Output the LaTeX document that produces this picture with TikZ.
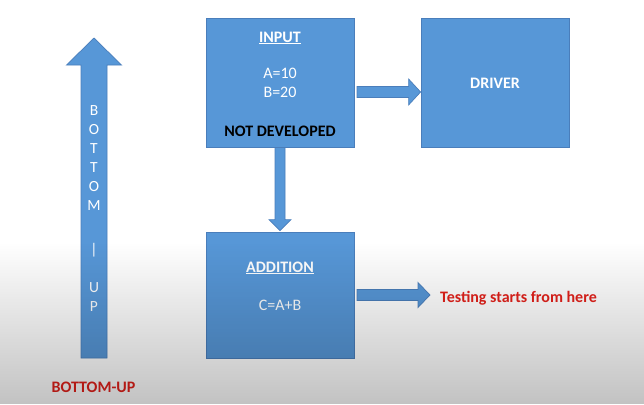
\documentclass[tikz,border=0pt]{standalone}
\usepackage{fontspec}
\setmainfont{Carlito}
\usetikzlibrary{calc,fadings}

\definecolor{boxblue}{HTML}{5797D7}
\definecolor{boxedge}{HTML}{4A7EBB}
\definecolor{alertred}{HTML}{E3211B}

\tikzfading[name=lowershade, top color=transparent!100, bottom color=transparent!0]

\tikzset{
  block/.style={draw=boxedge, fill=boxblue, line width=0.8pt, inner sep=0pt},
  blockarrow/.style={draw=boxedge, fill=boxblue, line width=0.7pt, line join=miter},
  boxtext/.style={text=white, font=\fontsize{16}{19}\selectfont, anchor=base, inner sep=0pt},
  boxtitle/.style={boxtext, font=\fontsize{16}{19}\selectfont\bfseries},
  spine/.style={text=white, font=\fontsize{15.5}{18}\selectfont, inner sep=0pt},
  redlabel/.style={text=alertred, font=\fontsize{16}{19}\selectfont\bfseries, anchor=base, inner sep=0pt},
}

% block arrow from tail #1 to tip #2: shaft half width #3, head half width #4, head length #5
\newcommand\blockarrow[5]{%
  \coordinate (ba-h) at ($(#2)!#5!(#1)$);
  \draw[blockarrow] ($(#1)!#3!90:(#2)$) -- ($(ba-h)!#3!90:(#2)$) -- ($(ba-h)!#4!90:(#2)$)
    -- (#2) -- ($(ba-h)!#4!-90:(#2)$) -- ($(ba-h)!#3!-90:(#2)$) -- ($(#1)!#3!-90:(#2)$) -- cycle;}

\begin{document}
\begin{tikzpicture}[x=1pt,y=-1pt]
  \useasboundingbox (0,0) rectangle (644,404);
  \fill[white] (0,0) rectangle (644,404);

  % boxes
  \node[block, minimum width=148pt, minimum height=129pt] (input) at (280,82.5) {};
  \node[block, minimum width=148pt, minimum height=129pt] (driver) at (495,82.5) {};
  \node[block, minimum width=148pt, minimum height=126pt] (addition) at (280,295) {};

  % box texts
  \node[boxtitle] (input-title) at (280,42) {\underline{INPUT}};
  \node[boxtext] (input-a) at (280,78) {A=10};
  \node[boxtext] (input-b) at (280,97) {B=20};
  \node[boxtitle, text=black] (input-note) at (280,136) {NOT DEVELOPED};
  \node[boxtitle] (driver-title) at (495,88) {DRIVER};
  \node[boxtitle] (addition-title) at (280,272) {\underline{ADDITION}};
  \node[boxtext] (addition-sum) at (280,310) {C=A+B};

  % connectors
  \coordinate (a1s) at (357,92);
  \coordinate (a1e) at (driver.west |- a1s);
  \blockarrow{a1s}{a1e}{5.5pt}{13pt}{12pt}
  \coordinate (a2s) at (input.south);
  \coordinate (a2e) at ($(addition.north)+(0,-1)$);
  \blockarrow{a2s}{a2e}{5pt}{11pt}{11pt}
  \coordinate (a3s) at (357,295);
  \coordinate (a3e) at (430,295);
  \blockarrow{a3s}{a3e}{5.5pt}{12.5pt}{12pt}
  \node[redlabel, anchor=base west] (testing) at (440,302) {Testing starts from here};

  % bottom-up arrow
  \coordinate (up-tail) at (94,358);
  \coordinate (up-tip) at (94,38);
  \blockarrow{up-tail}{up-tip}{13pt}{27.5pt}{27pt}
  \foreach \ch/\yy [count=\i] in {B/111,O/130,T/149,T/168,O/187,M/206,|/250,U/288,P/307}
    \node[spine] (spine-\i) at (94,\yy) {\ch};
  \node[redlabel] (bottom-up) at (93.5,392) {BOTTOM-UP};

  % soft grey fade along the lower part
  \fill[black, fill opacity=0.24, path fading=lowershade] (0,242) rectangle (644,404);
\end{tikzpicture}
\end{document}
